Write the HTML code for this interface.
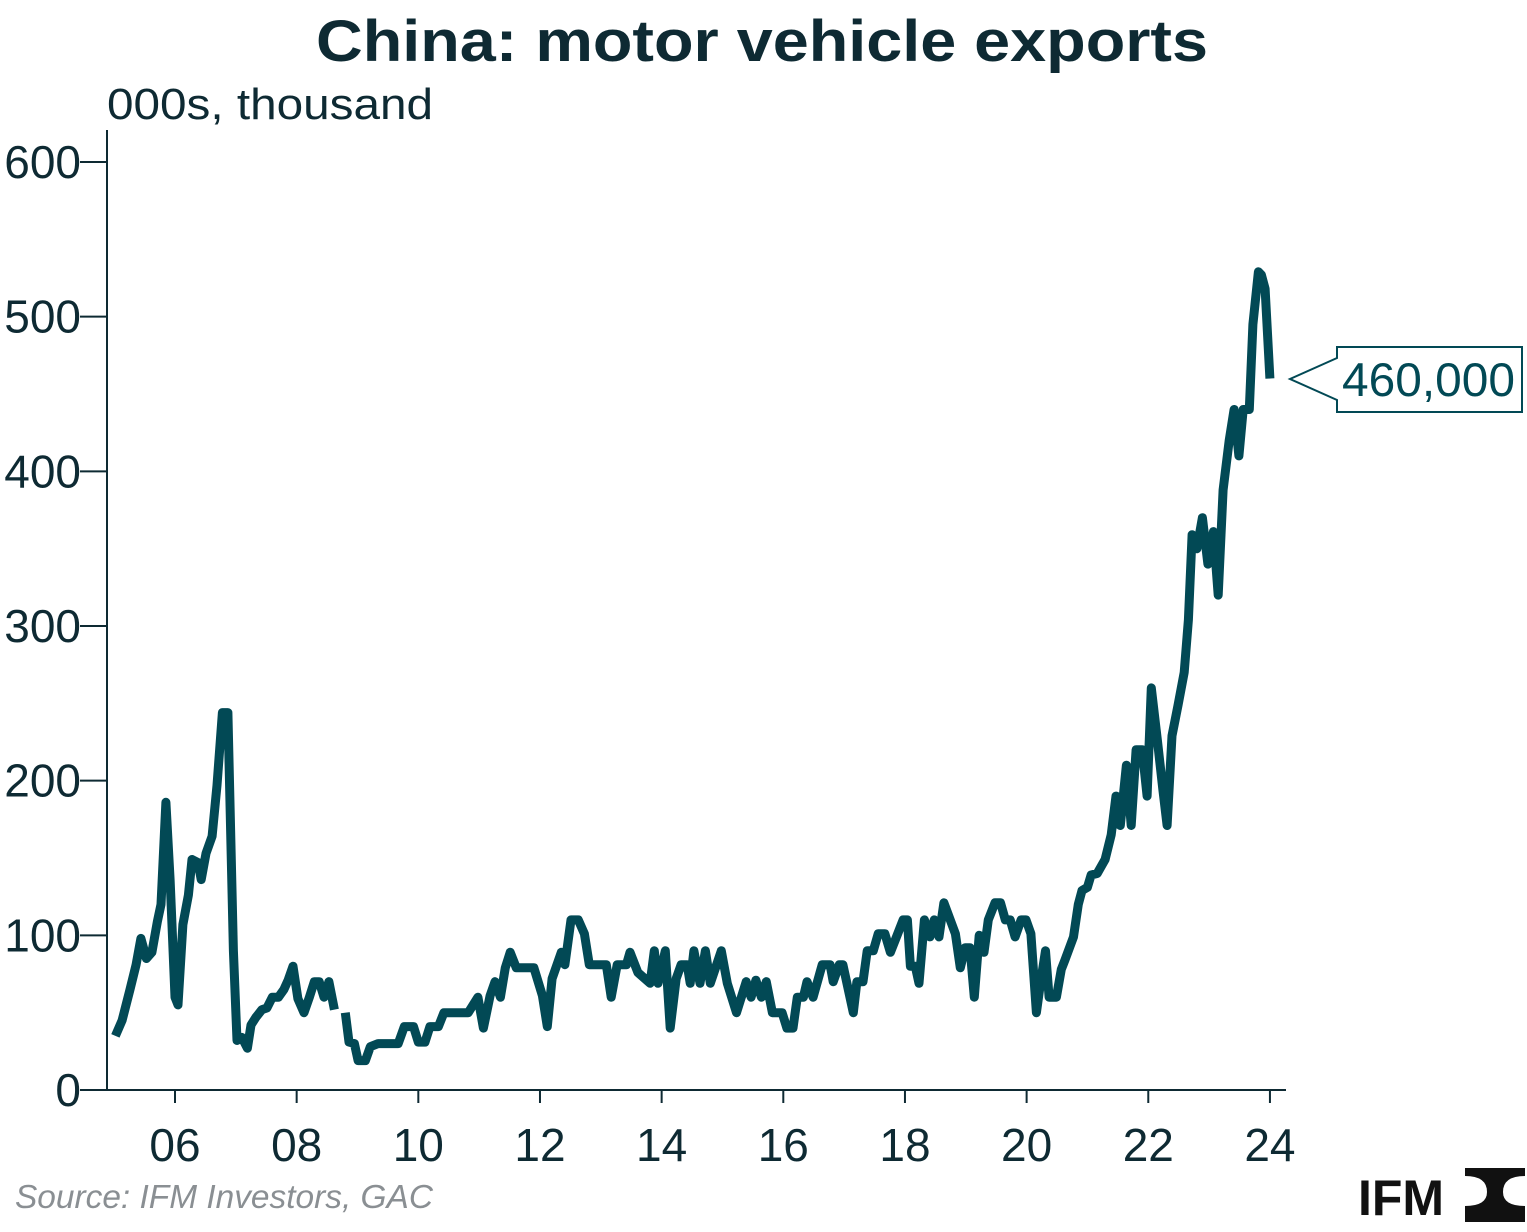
<!DOCTYPE html>
<html><head><meta charset="utf-8"><style>
body{margin:0;background:#fff;}
svg{display:block;font-family:"Liberation Sans",sans-serif;}
</style></head><body>
<svg width="1527" height="1232">
<text x="316" y="61" textLength="892" lengthAdjust="spacingAndGlyphs" font-size="58" font-weight="bold" fill="#0e2a33">China: motor vehicle exports</text>
<text x="107" y="119" textLength="326" lengthAdjust="spacingAndGlyphs" font-size="44" fill="#0e2a33">000s, thousand</text>
<g id="axes"></g>
<path id="line" fill="none" stroke="#024955" stroke-width="9" stroke-linejoin="round"></path>
<polygon points="1337,347 1522,347 1522,412 1337,412 1337,400 1290,379 1337,358" fill="#fff" stroke="#024955" stroke-width="2"></polygon>
<text x="1342" y="396" textLength="173" lengthAdjust="spacingAndGlyphs" font-size="47" fill="#024955">460,000</text>
<text x="15" y="1208" textLength="418" lengthAdjust="spacingAndGlyphs" font-size="33" font-style="italic" fill="#8a8f93">Source: IFM Investors, GAC</text>
<g>
<text x="1358" y="1215" font-size="50" font-weight="bold" fill="#111">IFM</text>
<path d="M1465,1168 h60 v8 q-22,0 -22,16 q0,14 22,14 v16 h-60 v-16 q22,0 22,-14 q0,-16 -22,-16z" fill="#111"></path>
</g>
</svg>
<script>
const years=[2005.02,2005.13,2005.26,2005.36,2005.44,2005.53,2005.62,2005.71,2005.77,2005.85,2005.92,2006.00,2006.05,2006.13,2006.22,2006.28,2006.38,2006.43,2006.51,2006.61,2006.69,2006.78,2006.87,2006.96,2007.02,2007.10,2007.19,2007.25,2007.33,2007.43,2007.51,2007.60,2007.70,2007.79,2007.86,2007.94,2008.02,2008.12,2008.21,2008.29,2008.37,2008.45,2008.53,2008.62,2008.71,2008.80,2008.86,2008.95,2009.01,2009.13,2009.21,2009.34,2009.67,2009.77,2009.92,2010.00,2010.11,2010.19,2010.33,2010.42,2010.82,2010.98,2011.07,2011.18,2011.26,2011.35,2011.43,2011.51,2011.61,2011.90,2012.04,2012.12,2012.20,2012.35,2012.41,2012.51,2012.63,2012.73,2012.81,2013.09,2013.17,2013.27,2013.42,2013.48,2013.61,2013.81,2013.88,2013.94,2014.06,2014.14,2014.24,2014.32,2014.42,2014.47,2014.53,2014.63,2014.72,2014.80,2014.98,2015.08,2015.23,2015.39,2015.47,2015.55,2015.64,2015.72,2015.82,2015.98,2016.06,2016.16,2016.23,2016.33,2016.39,2016.49,2016.64,2016.77,2016.82,2016.92,2016.98,2017.15,2017.21,2017.31,2017.38,2017.48,2017.56,2017.67,2017.76,2017.87,2017.97,2018.04,2018.09,2018.17,2018.23,2018.32,2018.41,2018.48,2018.56,2018.64,2018.83,2018.91,2018.99,2019.07,2019.14,2019.22,2019.30,2019.37,2019.48,2019.57,2019.65,2019.73,2019.81,2019.91,2019.99,2020.07,2020.16,2020.22,2020.31,2020.37,2020.49,2020.57,2020.63,2020.77,2020.85,2020.91,2021.00,2021.06,2021.16,2021.29,2021.39,2021.47,2021.54,2021.64,2021.72,2021.80,2021.90,2021.98,2022.05,2022.15,2022.24,2022.31,2022.39,2022.49,2022.59,2022.66,2022.72,2022.80,2022.89,2022.98,2023.07,2023.15,2023.23,2023.33,2023.41,2023.49,2023.56,2023.66,2023.72,2023.81,2023.86,2023.92,2024.00];
const values=[35,45,65,81,98,85,89,109,120,186,136,60,55,107,126,149,147,136,153,164,197,244,244,90,32,34,27,42,47,52,53,60,60,65,71,80,59,50,60,70,70,60,70,52,null,50,31,30,19,19,28,30,30,41,41,31,31,41,41,50,50,60,40,61,70,60,79,89,79,79,61,41,72,89,81,110,110,101,81,81,60,81,81,89,76,69,90,69,90,40,72,81,81,69,90,69,90,69,90,69,50,70,60,71,60,70,50,50,40,40,60,60,70,60,81,81,70,81,81,50,70,70,90,90,101,101,89,100,110,110,80,80,69,110,99,110,99,121,101,79,92,92,60,100,89,110,121,121,110,110,99,110,110,101,50,67,90,60,60,78,84,99,120,129,131,139,140,149,165,190,171,210,171,220,220,190,260,226,194,171,229,249,270,304,359,350,370,340,361,320,388,420,440,410,440,440,495,529,527,518,460];
const yTicks=[0,100,200,300,400,500,600];
const xTicks=[2006,2008,2010,2012,2014,2016,2018,2020,2022,2024];
const xTickLabels=["06","08","10","12","14","16","18","20","22","24"];
const X=y=>175+(y-2006)*60.83;
const Y=v=>1090-v*1.5467;
const NS="http://www.w3.org/2000/svg";
const axes=document.getElementById('axes');
function mk(tag,attrs,txt){const e=document.createElementNS(NS,tag);for(const k in attrs)e.setAttribute(k,attrs[k]);if(txt!==undefined)e.textContent=txt;axes.appendChild(e);return e;}
let e=mk('line',{x1:107,y1:130,x2:107,y2:1091,stroke:'#0e2a33','stroke-width':2});


e=mk('line',{x1:106,y1:1090,x2:1286,y2:1090,stroke:'#0e2a33','stroke-width':2});


yTicks.forEach(t=>{
 const tk=mk('line',{x1:80,y1:Y(t),x2:107,y2:Y(t),stroke:'#0e2a33','stroke-width':2});
 
 
 const lb=mk('text',{x:81,y:Y(t)+16,'text-anchor':'end','font-size':46,fill:'#0e2a33'},String(t));
 
 
});
xTicks.forEach((t,i)=>{
 const tk=mk('line',{x1:X(t),y1:1090,x2:X(t),y2:1103,stroke:'#0e2a33','stroke-width':2});
 
 
 const lb=mk('text',{x:X(t),y:1161,'text-anchor':'middle','font-size':46,fill:'#0e2a33'},xTickLabels[i]);
 
 
});
let d='',pen=false;
years.forEach((yr,i)=>{const v=values[i];if(v===null){pen=false;return;}d+=(pen?'L':'M')+X(yr).toFixed(1)+','+Y(v).toFixed(1)+' ';pen=true;});
document.getElementById('line').setAttribute('d',d);
</script>
</body></html>
